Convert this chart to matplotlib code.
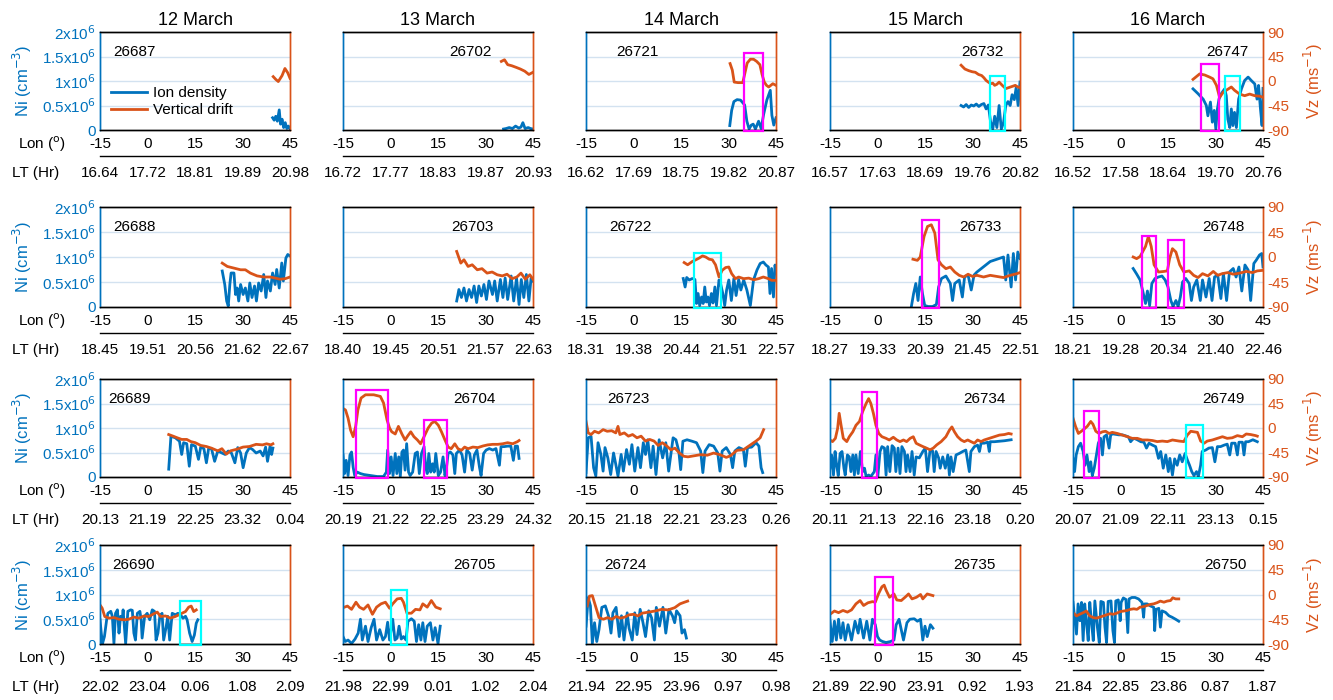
import numpy as np
import matplotlib
matplotlib.use("Agg")
import matplotlib.pyplot as plt
from matplotlib.patches import Rectangle

plt.rcParams['font.family'] = ['Liberation Sans', 'DejaVu Sans']

# ---- data ----
days = ["12 March", "13 March", "14 March", "15 March", "16 March"]
orbits = [
    [26687, 26702, 26721, 26732, 26747],
    [26688, 26703, 26722, 26733, 26748],
    [26689, 26704, 26723, 26734, 26749],
    [26690, 26705, 26724, 26735, 26750],
]
lon_ticks = [-15, 0, 15, 30, 45]

lt_row1 = [["16.64", "17.72", "18.81", "19.89", "20.98"],
           ["16.72", "17.77", "18.83", "19.87", "20.93"],
           ["16.62", "17.69", "18.75", "19.82", "20.87"],
           ["16.57", "17.63", "18.69", "19.76", "20.82"],
           ["16.52", "17.58", "18.64", "19.70", "20.76"]]
lt_row2 = [["18.45", "19.51", "20.56", "21.62", "22.67"],
           ["18.40", "19.45", "20.51", "21.57", "22.63"],
           ["18.31", "19.38", "20.44", "21.51", "22.57"],
           ["18.27", "19.33", "20.39", "21.45", "22.51"],
           ["18.21", "19.28", "20.34", "21.40", "22.46"]]
lt_row3 = [["20.13", "21.19", "22.25", "23.32", "0.04"],
           ["20.19", "21.22", "22.25", "23.29", "24.32"],
           ["20.15", "21.18", "22.21", "23.23", "0.26"],
           ["20.11", "21.13", "22.16", "23.18", "0.20"],
           ["20.07", "21.09", "22.11", "23.13", "0.15"]]
lt_row4 = [["22.02", "23.04", "0.06", "1.08", "2.09"],
           ["21.98", "22.99", "0.01", "1.02", "2.04"],
           ["21.94", "22.95", "23.96", "0.97", "0.98"],
           ["21.89", "22.90", "23.91", "0.92", "1.93"],
           ["21.84", "22.85", "23.86", "0.87", "1.87"]]

# ion density (x1e6 cm^-3) and vertical drift (m/s) as (lon, value)
ni_26687 = [(39.5, 0.25), (40.0, 0.20), (40.5, 0.28), (41.0, 0.18), (41.6, 0.41), (42.0, 0.12),
            (42.5, 0.22), (43.0, 0.05), (43.5, 0.15), (44.0, 0.03), (44.5, 0.08), (45.0, 0.02)]
vz_26687 = [(39.7, 8), (40.5, 3), (41.3, -1), (42.5, 10), (43.4, 23), (44.3, 15), (45.0, 5)]

ni_26702 = [(35.7, 0.02), (36.5, 0.03), (37.5, 0.05), (38.5, 0.03), (39.5, 0.08), (40.5, 0.04),
            (41.2, 0.06), (41.8, 0.15), (42.5, 0.03), (43.5, 0.05), (44.2, 0.03), (45.0, 0.02)]
vz_26702 = [(35.0, 36), (36.0, 39), (37.0, 30), (38.3, 28), (39.7, 25), (41.0, 22), (42.4, 18),
            (43.7, 12), (45.0, 16)]

ni_26721 = [(30.4, 0.09), (31.0, 0.40), (31.7, 0.58), (32.7, 0.62), (33.8, 0.61), (35.1, 0.51),
            (35.8, 0.18), (36.5, 0.02), (37.2, 0.10), (37.8, 0.12), (38.5, 0.02), (39.5, 0.18),
            (40.3, 0.03), (41.1, 0.32), (42.1, 0.61), (43.2, 0.81), (43.7, 0.30), (44.3, 0.10),
            (45.0, 0.25)]
vz_26721 = [(30.5, 32), (31.2, 20), (31.8, -2), (33.0, -3), (34.5, -3), (35.2, 15), (35.9, 33),
            (36.9, 40), (37.9, 40), (38.9, 36), (39.9, 30), (40.6, 12), (41.3, -2), (42.0, -8),
            (42.7, -11), (44.0, -5), (45.0, -8)]

ni_26732 = [(26.4, 0.50), (27.2, 0.47), (28.0, 0.52), (28.8, 0.46), (29.6, 0.51), (30.4, 0.49),
            (31.2, 0.53), (32.0, 0.48), (32.8, 0.52), (33.6, 0.54), (34.3, 0.43), (35.0, 0.51),
            (35.7, 0.17), (36.4, 0.02), (37.0, 0.28), (37.7, 0.05), (38.4, 0.50), (39.1, 0.02),
            (39.8, 0.15), (40.5, 0.50), (41.2, 0.58), (41.9, 0.50), (42.5, 0.72), (43.2, 0.62),
            (43.8, 0.87), (44.4, 0.50), (45.0, 0.98)]
vz_26732 = [(26.4, 29), (27.6, 22), (28.8, 19), (29.9, 17), (30.9, 16), (31.9, 12), (32.9, 10),
            (33.6, 6), (34.3, 1), (35.0, -2), (35.7, -5), (36.4, -4), (37.0, -8), (37.7, -6),
            (38.4, -2), (39.4, -8), (40.5, -14), (41.5, -12), (42.5, -10), (43.5, -8),
            (44.3, -11), (45.0, -12)]

ni_26747 = [(22.9, 0.84), (24.5, 0.74), (26.1, 0.63), (27.1, 0.50), (27.6, 0.29), (28.4, 0.57),
            (29.0, 0.16), (29.6, 0.40), (30.1, 0.02), (30.6, 0.43), (31.1, 0.63), (31.8, 0.74),
            (32.9, 0.84), (33.4, 0.70), (33.9, 0.22), (34.5, 0.05), (35.0, 0.43), (35.5, 0.09),
            (36.0, 0.36), (36.6, 0.05), (37.3, 0.63), (38.2, 0.84), (39.2, 1.01), (40.3, 1.08),
            (41.3, 1.01), (42.4, 0.94), (43.1, 0.63), (43.6, 0.91), (44.2, 0.43), (44.7, 0.09),
            (45.0, 0.85)]
vz_26747 = [(22.9, 3), (25.0, 13), (26.6, 11), (28.2, 7), (29.2, 4), (30.3, -8), (31.3, -30),
            (32.4, -21), (33.4, -17), (35.0, -11), (36.0, -17), (37.6, -24), (39.2, -27),
            (40.8, -24), (42.4, -27), (44.0, -28), (45.0, -30)]

ni_26688 = [(23.6, 0.72), (24.4, 0.45), (25.0, 0.12), (25.5, 0.02), (26.0, 0.45), (26.4, 0.68),
            (27.3, 0.68), (27.8, 0.25), (28.3, 0.38), (28.8, 0.12), (29.4, 0.45), (30.2, 0.25),
            (30.9, 0.38), (31.7, 0.12), (32.3, 0.48), (33.0, 0.19), (33.8, 0.42), (34.4, 0.12),
            (35.1, 0.48), (35.9, 0.32), (36.7, 0.65), (37.4, 0.19), (37.9, 0.52), (38.8, 0.32),
            (39.5, 0.68), (40.3, 0.45), (40.8, 0.75), (41.6, 0.38), (42.4, 0.88), (42.9, 0.52),
            (43.7, 0.98), (44.3, 1.05), (45.0, 1.02)]
vz_26688 = [(23.6, -11), (25.2, -17), (27.3, -20), (29.4, -23), (30.9, -23), (32.5, -29),
            (34.6, -34), (36.7, -36), (38.8, -36), (40.3, -38), (41.9, -40), (43.5, -39),
            (45.0, -36)]

ni_26703 = [(20.9, 0.12), (21.6, 0.35), (22.4, 0.19), (23.2, 0.38), (24.0, 0.12), (24.8, 0.35),
            (25.6, 0.19), (26.4, 0.42), (27.2, 0.09), (27.9, 0.42), (28.7, 0.22), (29.5, 0.45),
            (30.3, 0.15), (31.1, 0.52), (32.2, 0.25), (32.9, 0.52), (33.7, 0.12), (34.7, 0.55),
            (35.5, 0.19), (36.2, 0.58), (37.0, 0.15), (38.1, 0.62), (38.9, 0.12), (39.8, 0.58),
            (40.6, 0.05), (41.3, 0.55), (42.1, 0.19), (42.9, 0.65), (43.7, 0.12), (44.4, 0.58),
            (45.0, 0.52)]
vz_26703 = [(20.9, 10), (22.2, -11), (23.2, -5), (24.5, -17), (25.8, -14), (27.4, -23),
            (28.9, -21), (30.5, -29), (32.1, -27), (33.7, -32), (35.3, -34), (36.8, -31),
            (38.4, -39), (39.9, -36), (41.2, -29), (42.6, -40), (44.0, -32), (45.0, -40)]

ni_26722 = [(15.7, 0.57), (16.3, 0.40), (16.8, 0.59), (17.6, 0.54), (18.6, 0.57), (19.4, 0.55),
            (19.9, 0.07), (20.4, 0.27), (20.9, 0.03), (21.5, 0.20), (22.0, 0.07), (22.5, 0.40),
            (23.0, 0.10), (23.5, 0.20), (24.0, 0.03), (24.6, 0.27), (25.1, 0.08), (25.7, 0.40),
            (26.2, 0.03), (27.0, 0.54), (27.5, 0.47), (28.2, 0.27), (28.8, 0.03), (29.4, 0.34),
            (30.1, 0.54), (30.9, 0.13), (31.7, 0.57), (32.4, 0.23), (33.2, 0.55), (33.9, 0.34),
            (34.8, 0.54), (35.8, 0.34), (36.9, 0.03), (37.9, 0.54), (39.0, 0.74), (40.0, 0.87),
            (41.0, 0.90), (41.8, 0.84), (42.6, 0.80), (43.1, 0.27), (43.6, 0.77), (44.2, 0.20),
            (44.7, 0.84), (45.0, 0.68)]
vz_26722 = [(16.0, -10), (17.1, -14), (18.6, -8), (19.7, -5), (20.7, -2), (21.8, 2), (22.8, 0),
            (23.9, -4), (24.9, -5), (25.9, -14), (27.0, -36), (28.0, -24), (29.1, -19),
            (30.1, -18), (31.0, -30), (32.2, -39), (33.2, -36), (34.8, -39), (36.4, -38),
            (38.0, -41), (39.5, -39), (41.0, -36), (42.6, -39), (43.6, -42), (45.0, -42)]

ni_26733 = [(10.7, 0.01), (11.4, 0.27), (12.1, 0.47), (12.8, 0.13), (13.5, 0.60), (14.2, 0.27),
            (14.9, 0.03), (16.0, 0.01), (17.4, 0.01), (18.6, 0.05), (19.3, 0.40), (20.2, 0.57),
            (21.6, 0.62), (23.0, 0.47), (23.7, 0.13), (24.4, 0.47), (25.8, 0.54), (26.8, 0.20),
            (27.5, 0.60), (28.6, 0.64), (29.6, 0.34), (30.5, 0.64), (31.4, 0.70), (32.8, 0.77),
            (34.2, 0.84), (35.6, 0.91), (37.0, 0.94), (38.4, 0.97), (39.8, 1.00), (40.5, 0.54),
            (41.2, 1.04), (42.2, 0.40), (42.9, 1.07), (43.6, 0.54), (44.3, 1.10), (45.0, 0.97)]
vz_26733 = [(11.2, -4), (12.6, -6), (13.5, 0), (14.7, 37), (15.8, 55), (17.0, 58), (18.1, 43),
            (19.1, -5), (20.2, -14), (21.6, -21), (23.0, -18), (24.4, -27), (25.8, -33),
            (27.2, -36), (28.6, -31), (30.0, -35), (31.4, -33), (33.5, -36), (35.6, -33),
            (37.7, -35), (39.8, -37), (41.9, -33), (44.0, -30), (45.0, -28)]

ni_26748 = [(4.0, 0.77), (5.1, 0.66), (6.2, 0.54), (7.2, 0.27), (7.9, 0.07), (8.5, 0.32),
            (9.2, 0.03), (9.9, 0.47), (10.9, 0.57), (12.0, 0.60), (13.1, 0.62), (14.1, 0.54),
            (15.0, 0.40), (15.9, 0.13), (16.6, 0.01), (17.5, 0.13), (18.2, 0.01), (18.9, 0.20),
            (19.6, 0.50), (20.6, 0.57), (21.7, 0.47), (22.4, 0.13), (23.1, 0.40), (24.1, 0.54),
            (25.2, 0.13), (25.9, 0.54), (27.0, 0.20), (28.0, 0.57), (28.9, 0.13), (29.7, 0.60),
            (30.7, 0.64), (31.7, 0.17), (32.5, 0.67), (33.5, 0.13), (34.4, 0.70), (35.6, 0.77),
            (36.5, 0.60), (37.4, 0.80), (38.3, 0.32), (39.3, 0.84), (40.3, 0.74), (41.1, 0.13),
            (42.1, 0.87), (42.9, 0.94), (43.9, 1.04), (44.6, 1.07), (45.0, 0.80)]
vz_26748 = [(4.0, 0), (5.1, -3), (6.2, 1), (7.9, 19), (8.8, 37), (9.7, 19), (10.6, -14),
            (12.0, -27), (13.7, -26), (14.8, -25), (15.5, -3), (16.4, 15), (17.5, 9), (18.7, -14),
            (20.0, -27), (21.7, -25), (23.1, -33), (24.5, -37), (25.9, -30), (27.6, -34),
            (29.3, -26), (30.7, -33), (32.1, -30), (33.9, -28), (35.6, -31), (37.6, -29),
            (39.7, -26), (41.7, -28), (43.2, -25), (45.0, -24)]

ni_26689 = [(6.7, 0.16), (7.4, 0.83), (8.8, 0.80), (10.1, 0.73), (10.8, 0.46), (11.4, 0.70),
            (12.4, 0.68), (13.2, 0.22), (13.9, 0.66), (15.1, 0.63), (16.1, 0.36), (16.8, 0.61),
            (17.8, 0.58), (18.6, 0.29), (19.3, 0.58), (20.2, 0.58), (21.2, 0.32), (22.2, 0.53),
            (23.5, 0.49), (24.5, 0.46), (25.5, 0.53), (26.5, 0.49), (27.6, 0.29), (28.5, 0.60),
            (29.4, 0.49), (30.2, 0.19), (31.2, 0.49), (32.2, 0.60), (33.2, 0.56), (34.3, 0.49),
            (35.6, 0.53), (36.5, 0.43), (37.3, 0.61), (37.9, 0.32), (38.7, 0.63), (39.2, 0.46),
            (39.6, 0.59)]
vz_26689 = [(6.7, -12), (8.1, -15), (9.4, -18), (10.8, -21), (12.4, -21), (13.7, -25),
            (15.1, -27), (16.8, -32), (18.6, -34), (20.2, -37), (22.2, -42), (23.5, -38),
            (24.9, -48), (26.2, -42), (28.2, -39), (30.2, -35), (32.2, -34), (34.3, -30),
            (36.3, -31), (37.6, -29), (39.0, -31), (39.6, -29)]

ni_26704 = [(-15.0, 0.45), (-14.5, 0.07), (-14.0, 0.34), (-13.4, 0.03), (-12.8, 0.45),
            (-12.3, 0.51), (-11.8, 0.20), (-11.3, 0.03), (-10.5, 0.10), (-9.5, 0.07),
            (-8.4, 0.05), (-6.3, 0.03), (-4.2, 0.01), (-2.2, 0.01), (-1.3, 0.10), (-0.9, 0.55),
            (-0.3, 0.07), (0.2, 0.41), (0.8, 0.03), (1.5, 0.48), (2.0, 0.07), (2.6, 0.41),
            (3.1, 0.01), (3.6, 0.51), (4.1, 0.55), (4.6, 0.14), (5.1, 0.68), (5.7, 0.10),
            (6.2, 0.03), (7.0, 0.10), (7.8, 0.48), (8.5, 0.51), (9.1, 0.07), (9.8, 0.48),
            (10.6, 0.62), (11.1, 0.20), (11.6, 0.07), (12.1, 0.48), (12.7, 0.10), (13.3, 0.27),
            (13.8, 0.10), (14.3, 0.48), (15.1, 0.03), (15.8, 0.10), (16.6, 0.41), (17.2, 0.03),
            (17.7, 0.20), (18.2, 0.48), (18.9, 0.51), (19.7, 0.45), (20.3, 0.07), (20.8, 0.48),
            (21.8, 0.55), (22.6, 0.45), (23.4, 0.10), (24.1, 0.55), (25.0, 0.48), (25.8, 0.14),
            (26.5, 0.45), (27.3, 0.55), (28.1, 0.20), (28.6, 0.03), (29.4, 0.48), (30.2, 0.55),
            (31.2, 0.58), (32.3, 0.55), (33.3, 0.58), (34.4, 0.24), (34.9, 0.62), (35.9, 0.62),
            (37.0, 0.63), (38.0, 0.63), (38.8, 0.34), (39.4, 0.63), (40.1, 0.63), (40.6, 0.38)]
vz_26704 = [(-15.0, 36), (-14.2, 33), (-13.4, 18), (-12.6, -4), (-11.8, -16), (-11.0, 3),
            (-10.3, 33), (-9.3, 55), (-7.9, 61), (-5.3, 61), (-3.2, 58), (-2.2, 46), (-1.1, 15),
            (-0.3, 0), (0.4, -7), (1.5, -11), (2.5, 3), (3.6, -11), (4.6, -22), (5.5, -14),
            (6.4, -7), (7.4, -16), (8.5, -22), (9.5, -29), (10.6, -16), (11.9, 0), (13.0, 9),
            (14.0, 12), (15.1, 5), (16.1, -7), (17.2, -22), (18.2, -35), (19.2, -38),
            (20.3, -29), (21.3, -38), (22.4, -41), (23.4, -35), (24.5, -38), (26.0, -35),
            (27.6, -36), (29.2, -33), (30.7, -31), (32.3, -30), (33.9, -30), (35.4, -29),
            (37.0, -27), (38.6, -29), (40.1, -25), (40.6, -23)]

ni_26723 = [(-15.0, 0.09), (-14.3, 0.80), (-13.4, 0.83), (-12.6, 0.19), (-11.9, 0.02),
            (-11.2, 0.70), (-10.3, 0.46), (-9.6, 0.12), (-9.0, 0.60), (-8.1, 0.39), (-7.2, 0.05),
            (-6.3, 0.49), (-5.6, 0.26), (-4.9, 0.02), (-3.9, 0.46), (-3.2, 0.12), (-2.2, 0.56),
            (-1.3, 0.26), (-0.5, 0.66), (0.4, 0.12), (1.4, 0.60), (2.2, 0.19), (3.1, 0.70),
            (3.8, 0.46), (4.5, 0.76), (5.5, 0.19), (6.2, 0.63), (7.1, 0.05), (8.1, 0.76),
            (9.2, 0.39), (10.2, 0.70), (11.1, 0.12), (11.8, 0.46), (12.5, 0.80), (13.4, 0.76),
            (14.3, 0.53), (14.9, 0.15), (15.6, 0.73), (16.9, 0.76), (18.5, 0.73), (19.9, 0.70),
            (21.2, 0.53), (21.9, 0.09), (22.6, 0.53), (23.9, 0.66), (25.3, 0.63), (26.6, 0.49),
            (27.3, 0.12), (28.0, 0.53), (29.3, 0.60), (30.6, 0.46), (31.3, 0.19), (32.0, 0.53),
            (33.3, 0.60), (34.7, 0.56), (35.3, 0.22), (36.0, 0.60), (37.3, 0.61), (38.7, 0.70),
            (39.6, 0.63), (40.3, 0.19), (40.8, 0.09)]
vz_26723 = [(-15.0, 12), (-14.3, -9), (-13.4, -12), (-12.3, -6), (-11.0, -9), (-9.6, -3),
            (-8.3, -6), (-6.9, -5), (-5.6, -9), (-4.9, 3), (-4.3, -12), (-2.9, -9), (-1.6, -15),
            (-0.3, -12), (1.1, -18), (2.4, -15), (3.8, -24), (5.1, -21), (6.5, -24), (7.8, -32),
            (9.1, -27), (10.5, -33), (11.8, -40), (13.1, -37), (14.5, -46), (15.9, -52),
            (17.2, -53), (19.2, -51), (21.2, -49), (23.3, -50), (25.3, -46), (27.3, -49),
            (29.3, -54), (30.6, -51), (32.7, -41), (34.7, -40), (36.7, -32), (38.7, -24),
            (40.0, -18), (41.1, -3)]

ni_26734 = [(-15.0, 0.18), (-14.5, 0.45), (-13.9, 0.04), (-13.4, 0.52), (-12.9, 0.24),
            (-12.4, 0.03), (-11.8, 0.48), (-11.2, 0.52), (-10.6, 0.18), (-10.2, 0.04),
            (-9.5, 0.45), (-8.9, 0.41), (-8.4, 0.11), (-7.8, 0.45), (-7.3, 0.04), (-6.8, 0.45),
            (-6.1, 0.07), (-5.4, 0.52), (-4.7, 0.11), (-4.1, 0.18), (-3.6, 0.01), (-2.8, 0.04),
            (-2.1, 0.01), (-1.0, 0.11), (-0.5, 0.45), (0.1, 0.01), (0.8, 0.52), (1.4, 0.62),
            (2.2, 0.59), (2.7, 0.04), (3.2, 0.62), (3.9, 0.11), (4.6, 0.64), (5.3, 0.59),
            (5.8, 0.11), (6.5, 0.59), (7.1, 0.07), (7.7, 0.62), (8.5, 0.52), (9.0, 0.11),
            (9.5, 0.45), (10.3, 0.11), (10.9, 0.52), (11.6, 0.04), (12.2, 0.41), (13.2, 0.39),
            (14.3, 0.52), (15.1, 0.59), (15.8, 0.11), (16.6, 0.55), (17.4, 0.53), (17.9, 0.11),
            (18.5, 0.52), (19.3, 0.39), (19.8, 0.18), (20.6, 0.41), (21.4, 0.18), (22.2, 0.45),
            (22.7, 0.04), (23.2, 0.41), (23.9, 0.11), (24.8, 0.45), (25.8, 0.48), (26.9, 0.52),
            (27.9, 0.55), (29.0, 0.11), (29.5, 0.52), (30.6, 0.62), (31.6, 0.65), (32.2, 0.52),
            (32.7, 0.69), (33.7, 0.69), (34.8, 0.71), (35.3, 0.52), (35.6, 0.72), (36.9, 0.72),
            (38.5, 0.73), (40.1, 0.74), (42.2, 0.76)]
vz_26734 = [(-15.0, -22), (-14.2, -25), (-13.3, -19), (-12.6, -1), (-12.1, 27), (-11.5, 5),
            (-10.8, -19), (-9.7, -25), (-8.9, -16), (-7.8, -7), (-6.8, 5), (-5.7, 12),
            (-4.7, 30), (-3.6, 45), (-2.8, 54), (-2.1, 45), (-1.3, 27), (-0.5, 5), (0.4, -10),
            (1.4, -16), (2.7, -19), (3.7, -22), (5.0, -17), (6.1, -22), (7.1, -25), (8.2, -22),
            (9.2, -25), (10.3, -19), (11.3, -16), (12.2, -28), (13.2, -31), (14.3, -34),
            (15.5, -37), (16.6, -40), (17.6, -37), (18.7, -31), (20.1, -25), (21.6, -16),
            (22.7, -4), (23.5, 2), (24.3, -7), (25.3, -16), (26.4, -22), (27.4, -25),
            (28.5, -22), (29.5, -25), (30.6, -28), (31.6, -22), (32.7, -25), (33.7, -22),
            (35.3, -19), (36.9, -16), (38.5, -13), (40.1, -12), (41.4, -10), (42.2, -11)]

ni_26749 = [(-15.0, 0.38), (-14.5, 0.11), (-14.0, 0.45), (-13.3, 0.62), (-12.6, 0.69),
            (-11.8, 0.52), (-11.2, 0.24), (-10.6, 0.45), (-9.9, 0.11), (-9.4, 0.31),
            (-8.9, 0.03), (-8.3, 0.18), (-7.6, 0.45), (-7.0, 0.69), (-6.3, 0.79), (-5.7, 0.45),
            (-5.2, 0.82), (-4.4, 0.86), (-3.6, 0.59), (-3.1, 0.86), (-2.4, 0.88), (-1.5, 0.87),
            (-0.5, 0.86), (0.6, 0.86), (1.6, 0.84), (2.5, 0.82), (3.2, 0.72), (3.7, 0.76),
            (4.3, 0.79), (5.3, 0.76), (6.4, 0.72), (7.4, 0.71), (8.2, 0.59), (9.0, 0.69),
            (10.1, 0.65), (11.1, 0.62), (12.0, 0.38), (12.7, 0.52), (13.5, 0.18), (14.3, 0.45),
            (15.1, 0.11), (15.6, 0.38), (16.4, 0.04), (17.1, 0.37), (17.9, 0.24), (18.7, 0.45),
            (19.5, 0.31), (20.4, 0.48), (21.1, 0.35), (21.8, 0.24), (22.5, 0.11), (23.2, 0.03),
            (24.0, 0.11), (24.6, 0.01), (25.3, 0.24), (25.8, 0.52), (26.9, 0.55), (27.9, 0.59),
            (29.0, 0.60), (29.8, 0.31), (30.6, 0.62), (31.6, 0.62), (32.7, 0.65), (33.7, 0.67),
            (34.5, 0.45), (35.1, 0.69), (36.2, 0.69), (36.9, 0.45), (37.4, 0.71), (38.5, 0.71),
            (39.0, 0.45), (39.5, 0.72), (40.4, 0.72), (41.1, 0.74), (41.8, 0.76), (42.5, 0.74),
            (43.2, 0.72)]
vz_26749 = [(-15.0, 18), (-14.2, 3), (-13.3, -10), (-12.6, -7), (-11.5, -2), (-10.5, 3),
            (-9.4, 12), (-8.7, 7), (-7.8, -6), (-6.8, -10), (-5.7, -7), (-4.7, -6), (-3.6, -10),
            (-2.6, -8), (-1.0, -10), (0.6, -13), (2.2, -16), (3.7, -19), (5.3, -19), (6.9, -22),
            (8.5, -22), (10.1, -23), (11.6, -25), (13.2, -24), (14.8, -25), (16.4, -22),
            (18.5, -24), (20.0, -25), (21.1, -13), (22.2, -6), (23.2, -7), (24.3, -8),
            (25.3, -24), (26.4, -28), (27.4, -24), (29.0, -22), (30.6, -19), (32.2, -16),
            (33.7, -19), (35.3, -18), (36.9, -14), (38.5, -16), (39.7, -11), (41.1, -12),
            (42.7, -14), (43.2, -15)]

ni_26690 = [(-15.0, 0.49), (-14.6, 0.22), (-14.2, 0.01), (-13.6, 0.15), (-12.9, 0.49),
            (-12.5, 0.62), (-11.6, 0.66), (-11.1, 0.56), (-10.6, 0.01), (-10.1, 0.62),
            (-9.5, 0.69), (-9.0, 0.22), (-8.5, 0.56), (-8.0, 0.49), (-7.7, 0.69), (-6.9, 0.01),
            (-6.2, 0.66), (-5.3, 0.69), (-4.8, 0.68), (-4.3, 0.22), (-3.8, 0.08), (-3.2, 0.62),
            (-2.4, 0.66), (-2.0, 0.49), (-1.7, 0.12), (-0.9, 0.56), (-0.1, 0.62), (0.7, 0.49),
            (1.5, 0.69), (2.2, 0.66), (2.7, 0.08), (3.3, 0.22), (3.9, 0.56), (4.6, 0.62),
            (5.1, 0.08), (5.9, 0.35), (6.4, 0.56), (7.0, 0.08), (7.8, 0.62), (8.8, 0.59),
            (9.6, 0.62), (10.4, 0.59), (11.2, 0.52), (12.0, 0.56), (12.5, 0.49), (13.3, 0.22),
            (14.1, 0.05), (14.8, 0.18), (15.4, 0.42), (15.9, 0.49)]
vz_26690 = [(-15.0, -19), (-14.3, -25), (-13.5, -40), (-12.2, -43), (-10.6, -42), (-9.0, -45),
            (-7.4, -46), (-5.9, -45), (-4.3, -41), (-2.7, -43), (-1.1, -39), (0.4, -40),
            (2.0, -35), (3.1, -32), (4.1, -40), (5.7, -39), (7.2, -43), (8.8, -40), (9.9, -37),
            (10.9, -34), (12.0, -31), (13.0, -23), (13.8, -21), (14.6, -31), (15.4, -28)]

ni_26705 = [(-15.0, 0.15), (-14.3, 0.05), (-13.4, 0.08), (-12.3, 0.01), (-11.2, 0.10),
            (-10.2, 0.22), (-9.5, 0.50), (-8.9, 0.08), (-7.9, 0.36), (-7.1, 0.05), (-6.1, 0.33),
            (-5.2, 0.50), (-4.4, 0.08), (-3.4, 0.29), (-2.4, 0.08), (-1.6, 0.15), (-0.9, 0.44),
            (-0.3, 0.08), (0.7, 0.50), (1.4, 0.08), (2.1, 0.12), (2.7, 0.36), (3.4, 0.10),
            (4.1, 0.15), (4.9, 0.08), (5.5, 0.46), (6.6, 0.51), (7.5, 0.46), (8.2, 0.05),
            (8.9, 0.39), (9.6, 0.08), (10.2, 0.43), (10.9, 0.05), (11.6, 0.36), (12.6, 0.43),
            (13.4, 0.08), (14.1, 0.33), (15.0, 0.01), (15.7, 0.36)]
vz_26705 = [(-15.0, -24), (-13.6, -21), (-12.3, -27), (-10.9, -14), (-9.8, -23), (-8.5, -27),
            (-7.1, -19), (-5.7, -36), (-4.4, -23), (-3.0, -17), (-1.6, -14), (-0.3, -25),
            (0.7, -17), (2.1, -8), (3.4, -7), (4.1, -14), (5.2, -34), (6.6, -34), (7.9, -27),
            (9.3, -28), (10.2, -17), (11.6, -23), (12.9, -11), (14.3, -23), (15.7, -26)]

ni_26724 = [(-15.0, 0.36), (-14.3, 0.94), (-13.6, 0.77), (-13.0, 0.01), (-12.3, 0.43),
            (-11.6, 0.05), (-10.9, 0.29), (-10.0, 0.74), (-8.9, 0.77), (-7.9, 0.57),
            (-7.1, 0.22), (-6.5, 0.63), (-5.5, 0.74), (-4.5, 0.15), (-3.8, 0.57), (-3.0, 0.08),
            (-2.0, 0.63), (-1.4, 0.32), (-0.4, 0.08), (0.4, 0.63), (1.1, 0.19), (2.1, 0.70),
            (3.0, 0.43), (3.8, 0.15), (4.8, 0.67), (5.7, 0.53), (6.6, 0.08), (7.2, 0.74),
            (8.2, 0.36), (9.3, 0.74), (10.2, 0.22), (11.2, 0.70), (12.3, 0.57), (13.0, 0.43),
            (13.6, 0.67), (14.7, 0.57), (15.3, 0.22), (16.1, 0.29), (16.7, 0.12)]
vz_26724 = [(-14.6, -21), (-13.9, -3), (-13.0, -2), (-12.0, -21), (-10.9, -42), (-9.5, -45),
            (-8.2, -42), (-6.8, -45), (-5.5, -40), (-4.1, -43), (-2.7, -41), (-1.4, -37),
            (0.0, -36), (1.4, -39), (2.7, -34), (4.8, -32), (6.8, -30), (8.9, -27), (10.9, -28),
            (13.0, -24), (14.7, -17), (16.1, -14), (17.1, -12)]

ni_26735 = [(-15.0, 0.46), (-14.3, 0.05), (-13.6, 0.46), (-13.0, 0.08), (-12.3, 0.50),
            (-11.6, 0.12), (-10.9, 0.43), (-10.2, 0.08), (-9.3, 0.39), (-8.2, 0.08),
            (-7.1, 0.46), (-6.1, 0.22), (-5.5, 0.50), (-4.4, 0.12), (-3.4, 0.46), (-2.4, 0.08),
            (-1.6, 0.50), (-0.7, 0.39), (0.0, 0.15), (0.7, 0.08), (1.6, 0.05), (2.7, 0.03),
            (4.1, 0.05), (5.2, 0.08), (5.9, 0.39), (6.8, 0.50), (8.2, 0.08), (9.3, 0.43),
            (10.2, 0.50), (11.6, 0.51), (12.6, 0.46), (13.6, 0.50), (14.3, 0.08), (15.0, 0.36),
            (15.7, 0.15), (16.7, 0.39), (17.5, 0.32)]
vz_26735 = [(-15.0, -36), (-13.6, -30), (-12.3, -33), (-10.9, -29), (-9.5, -32), (-8.2, -28),
            (-6.8, -17), (-5.5, -11), (-4.4, -20), (-3.0, -15), (-1.6, -13), (-0.7, -14),
            (0.3, 1), (1.4, 14), (2.1, 17), (2.7, 8), (3.8, -5), (5.2, 1), (6.1, -10),
            (7.5, -11), (8.9, -4), (9.8, 1), (10.9, -8), (12.3, -5), (13.6, 0), (14.3, -8),
            (15.7, 1), (17.5, -2)]

ni_26750 = [(-15.0, 0.84), (-14.5, 0.54), (-13.9, 0.20), (-13.4, 0.81), (-12.8, 0.47),
            (-12.3, 0.84), (-11.8, 0.07), (-11.3, 0.81), (-10.8, 0.47), (-10.2, 0.07),
            (-9.7, 0.84), (-9.2, 0.47), (-8.6, 0.07), (-8.1, 0.87), (-7.3, 0.34), (-6.7, 0.03),
            (-6.2, 0.86), (-5.4, 0.84), (-4.9, 0.34), (-4.4, 0.03), (-3.9, 0.86), (-3.0, 0.87),
            (-2.4, 0.27), (-1.9, 0.03), (-1.5, 0.87), (-0.7, 0.89), (-0.1, 0.47), (0.2, 0.84),
            (0.9, 0.93), (1.7, 0.90), (2.3, 0.23), (2.7, 0.91), (3.6, 0.94), (4.6, 0.94),
            (5.7, 0.91), (6.8, 0.84), (7.3, 0.54), (7.6, 0.81), (8.4, 0.81), (9.4, 0.77),
            (10.5, 0.74), (10.8, 0.27), (11.2, 0.70), (12.1, 0.72), (12.6, 0.34), (13.1, 0.67),
            (14.2, 0.64), (15.3, 0.57), (16.3, 0.54), (17.4, 0.50), (18.4, 0.46)]
vz_26750 = [(-15.0, -33), (-13.9, -39), (-12.9, -36), (-11.8, -33), (-10.8, -30), (-9.7, -39),
            (-8.6, -42), (-7.6, -43), (-6.5, -41), (-5.4, -39), (-4.4, -37), (-3.3, -35),
            (-2.3, -36), (-1.2, -34), (-0.1, -31), (1.1, -30), (2.1, -29), (3.1, -27),
            (4.2, -26), (5.2, -27), (6.2, -23), (7.3, -22), (8.4, -20), (9.4, -18), (10.5, -17),
            (11.5, -15), (12.6, -12), (13.7, -14), (14.7, -12), (15.8, -11), (16.5, -6),
            (17.4, -8), (18.4, -8)]

# flagged intervals: (lon start, lon end, top in m/s)
magenta_boxes = {26721: [(35.0, 41.0, 52)], 26747: [(25.3, 31.0, 32)],
                 26733: [(14.0, 19.5, 66)], 26748: [(6.7, 11.3, 38), (15.0, 20.0, 30)],
                 26704: [(-10.8, -0.9, 69), (10.7, 17.7, 15)], 26734: [(-4.9, -0.2, 66)],
                 26749: [(-11.5, -6.8, 31)], 26735: [(-0.7, 4.8, 31)]}
cyan_boxes = {26732: [(35.5, 40.2, 9)], 26747: [(33.1, 37.6, 9)], 26722: [(19.2, 27.5, 8)],
              26749: [(20.8, 26.0, 5)], 26690: [(10.2, 17.0, -11)], 26705: [(0.3, 5.2, 9)]}

ni_series = {26687: ni_26687, 26702: ni_26702, 26721: ni_26721, 26732: ni_26732, 26747: ni_26747,
             26688: ni_26688, 26703: ni_26703, 26722: ni_26722, 26733: ni_26733, 26748: ni_26748,
             26689: ni_26689, 26704: ni_26704, 26723: ni_26723, 26734: ni_26734, 26749: ni_26749,
             26690: ni_26690, 26705: ni_26705, 26724: ni_26724, 26735: ni_26735, 26750: ni_26750}
vz_series = {26687: vz_26687, 26702: vz_26702, 26721: vz_26721, 26732: vz_26732, 26747: vz_26747,
             26688: vz_26688, 26703: vz_26703, 26722: vz_26722, 26733: vz_26733, 26748: vz_26748,
             26689: vz_26689, 26704: vz_26704, 26723: vz_26723, 26734: vz_26734, 26749: vz_26749,
             26690: vz_26690, 26705: vz_26705, 26724: vz_26724, 26735: vz_26735, 26750: vz_26750}
lt_rows = [lt_row1, lt_row2, lt_row3, lt_row4]

# ---- layout / style ----
W, H = 1333, 700
col_left = [100, 343, 586, 830, 1073]
panel_w = 190
row_span = [(32, 130), (207, 307), (379, 477), (545, 644)]
label_x = [[0.07, 0.56, 0.16, 0.69, 0.70],
           [0.07, 0.57, 0.12, 0.68, 0.68],
           [0.045, 0.58, 0.11, 0.70, 0.68],
           [0.065, 0.58, 0.095, 0.65, 0.69]]

BLUE = '#0072BD'
ORANGE = '#D95319'
GRID = '#d3e2f0'
FS = 11

fig = plt.figure(figsize=(W / 100, H / 100), dpi=100)

for r in range(4):
    top, bot = row_span[r]
    for c in range(5):
        orbit = orbits[r][c]
        ax = fig.add_axes([col_left[c] / W, 1 - bot / H, panel_w / W, (bot - top) / H])
        ax.set_xlim(-15, 45)
        ax.set_ylim(0, 2)
        ax.set_xticks(lon_ticks)
        ax.set_xticklabels([str(t) for t in lon_ticks], fontsize=FS)
        ax.set_yticks([0, 0.5, 1, 1.5, 2])
        for g in [0.5, 1.0, 1.5]:
            ax.axhline(g, color=GRID, lw=1.0, zorder=0)
        ax.tick_params(axis='both', length=0)
        ax.tick_params(axis='x', pad=5)
        if c == 0:
            ax.set_yticklabels(["0", "0.5x10$^6$", "1x10$^6$", "1.5x10$^6$", "2x10$^6$"],
                               fontsize=FS, color=BLUE)
            ax.tick_params(axis='y', pad=3)
        else:
            ax.set_yticklabels([])

        ni = np.array(ni_series[orbit])
        vz = np.array(vz_series[orbit])
        l1, = ax.plot(ni[:, 0], ni[:, 1], color=BLUE, lw=2.0, label='Ion density')

        ax2 = ax.twinx()
        ax2.set_ylim(-90, 90)
        ax2.set_yticks([-90, -45, 0, 45, 90])
        ax2.tick_params(axis='y', length=0, pad=3)
        if c == 4:
            ax2.set_yticklabels(["-90", "-45", "0", "45", "90"], fontsize=FS, color=ORANGE)
        else:
            ax2.set_yticklabels([])
        l2, = ax2.plot(vz[:, 0], vz[:, 1], color=ORANGE, lw=2.0, label='Vertical drift')

        for boxes, col in [(magenta_boxes, '#FF00FF'), (cyan_boxes, '#00FFFF')]:
            for x0, x1, ytop in boxes.get(orbit, []):
                ax2.add_patch(Rectangle((x0, -92), x1 - x0, ytop + 92, fill=False,
                                        edgecolor=col, lw=1.6, clip_on=False, zorder=5))

        for a in (ax, ax2):
            a.spines['left'].set_color(BLUE)
            a.spines['right'].set_color(ORANGE)
            a.spines['top'].set_color('black')
            a.spines['bottom'].set_color('black')
            for s in a.spines.values():
                s.set_linewidth(1.0)

        ax.text(label_x[r][c], 0.80, str(orbit), transform=ax.transAxes,
                fontsize=FS, va='center', ha='left')

        # separator line and local time row under the longitude ticks
        sep_y = -26 / (bot - top)
        ax.plot([0, 1], [sep_y, sep_y], transform=ax.transAxes, color='black',
                lw=1.0, clip_on=False)
        for lon, lbl in zip(lon_ticks, lt_rows[r][c]):
            ax.annotate(lbl, xy=(lon, 0), xycoords=('data', 'axes fraction'),
                        xytext=(0, -31), textcoords='offset points',
                        ha='center', va='center', fontsize=FS)

        if r == 0:
            ax.set_title(days[c], fontsize=13, pad=5)
        if r == 0 and c == 0:
            ax.legend(handles=[l1, l2], loc='lower left', bbox_to_anchor=(0.0, 0.02),
                      frameon=False, fontsize=FS, handlelength=2.4, labelspacing=0.2,
                      handletextpad=0.4, borderaxespad=0.3)

    # row labels on the left and right
    fig.text(42 / W, 1 - (bot + 14) / H, "Lon ($^{\\mathrm{o}}$)", ha='center', va='center',
             fontsize=FS)
    fig.text(36 / W, 1 - (bot + 43) / H, "LT (Hr)", ha='center', va='center', fontsize=FS)
    fig.text(22 / W, 1 - (top + bot) / 2 / H, "Ni (cm$^{-3}$)", rotation=90, ha='center',
             va='center', fontsize=FS + 1, color=BLUE)
    fig.text(1313 / W, 1 - (top + bot) / 2 / H, "Vz (ms$^{-1}$)", rotation=90, ha='center',
             va='center', fontsize=FS + 1, color=ORANGE)

fig.savefig("out.png", dpi=100)
